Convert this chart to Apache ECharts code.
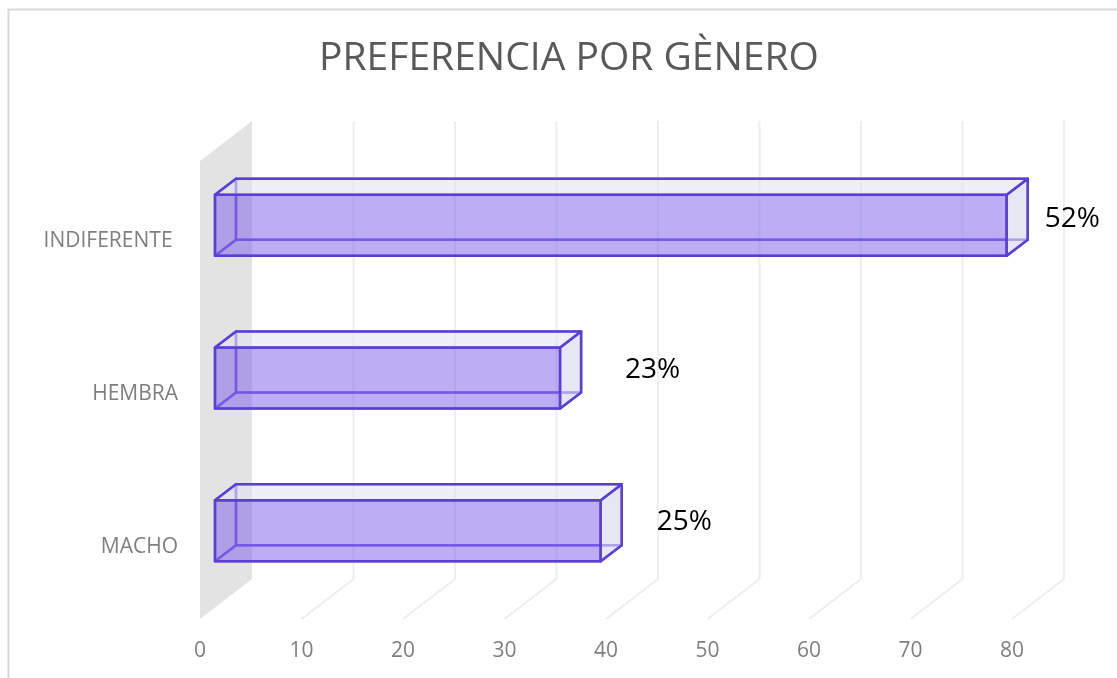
<!DOCTYPE html>
<html>
<head>
<meta charset="utf-8">
<title>Preferencia por genero</title>
<script src="https://cdn.jsdelivr.net/npm/echarts@6/dist/echarts.min.js"></script>
<style>
  html, body { margin: 0; padding: 0; background: #fff; }
  #myChart { width: 1117px; height: 678px; }
</style>
</head>
<body>
<div id="myChart"></div>
<script>
  var categories = ['MACHO', 'HEMBRA', 'INDIFERENTE ']
  var values = [38, 34, 78]
  var percents = ['25%', '23%', '52%']
  var xTicks = [10, 20, 30, 40, 50, 60, 70, 80]

  // separacion a mano de cada etiqueta respecto al frente de la barra
  var labelShift = [[56, -9], [65, -8], [38, -6]]

  var wallDepth = [52, -40]  // fondo del piso/pared
  var barDepth = [21, -16]
  var barStart = [15, -12]
  var barHeight = 61
  var stroke = '#5b3fd4'

  function poly(points, fill, lineColor, lineWidth, z2) {
    return {
      type: 'polygon',
      z2: z2,
      shape: { points: points },
      style: { fill: fill, stroke: lineColor, lineWidth: lineWidth, lineJoin: 'round' }
    }
  }

  function renderWall(params, api) {
    var c = params.coordSys
    var x = api.coord([0, 0])[0]
    var top = c.y, bot = c.y + c.height
    return poly([
      [x, top], [x + wallDepth[0], top + wallDepth[1]],
      [x + wallDepth[0], bot + wallDepth[1]], [x, bot]
    ], '#e3e3e3', null, 0, 0)
  }

  function renderGrid(params, api) {
    var c = params.coordSys
    var x = api.coord([api.value(0), 0])[0]
    var top = c.y, bot = c.y + c.height
    return {
      type: 'polyline',
      shape: { points: [
        [x, bot], [x + wallDepth[0], bot + wallDepth[1]], [x + wallDepth[0], top + wallDepth[1]]
      ] },
      style: { fill: null, stroke: '#eeeeee', lineWidth: 2 }
    }
  }

  function renderBar(params, api) {
    var i = params.dataIndex
    var end = api.coord([api.value(0), api.value(1)])
    var zero = api.coord([0, api.value(1)])
    var x0 = zero[0] + barStart[0]
    var x1 = end[0] + barStart[0]
    var y0 = zero[1] + barStart[1] - barHeight / 2
    var y1 = y0 + barHeight
    var dx = barDepth[0], dy = barDepth[1]
    var back = 'rgba(104,76,225,0.75)'
    return {
      type: 'group',
      children: [
        // caras de atras
        poly([[x0 + dx, y0 + dy], [x1 + dx, y0 + dy], [x1 + dx, y1 + dy], [x0 + dx, y1 + dy]], 'transparent', back, 2.5, 1),
        poly([[x0, y1], [x1, y1], [x1 + dx, y1 + dy], [x0 + dx, y1 + dy]], 'transparent', back, 2.5, 2),
        poly([[x0, y0], [x0 + dx, y0 + dy], [x0 + dx, y1 + dy], [x0, y1]], 'transparent', back, 2.5, 2),
        // caras de adelante
        poly([[x0, y0], [x1, y0], [x1, y1], [x0, y1]], 'rgba(124,92,235,0.5)', stroke, 2.5, 4),
        poly([[x1, y0], [x1 + dx, y0 + dy], [x1 + dx, y1 + dy], [x1, y1]], 'rgba(215,213,235,0.6)', stroke, 2.5, 5),
        poly([[x0, y0], [x1, y0], [x1 + dx, y0 + dy], [x0 + dx, y0 + dy]], 'rgba(225,225,240,0.55)', stroke, 2.5, 5),
        {
          type: 'text',
          z2: 6,
          style: {
            x: x1 + labelShift[i][0],
            y: (y0 + y1) / 2 + labelShift[i][1],
            text: percents[i],
            fill: '#000',
            font: '28px "Open Sans"',
            align: 'left',
            verticalAlign: 'middle'
          }
        }
      ]
    }
  }

  var myChart = echarts.init(document.getElementById('myChart'))
  var option = {
    animation: false,
    backgroundColor: '#fff',
    title: {
      text: 'PREFERENCIA POR GÈNERO',
      left: 564,
      top: 54,
      textAlign: 'center',
      textVerticalAlign: 'middle',
      textStyle: { fontFamily: 'Open Sans', fontWeight: 'normal', fontSize: 39, color: '#595959' }
    },
    grid: { left: 200, right: 105, top: 161, bottom: 59 },
    xAxis: {
      type: 'value',
      min: 0,
      max: 80,
      interval: 10,
      axisLine: { show: false },
      axisTick: { show: false },
      splitLine: { show: false },
      axisLabel: { margin: 22, color: '#7f7f7f', fontSize: 21, fontFamily: 'Open Sans' }
    },
    yAxis: {
      type: 'category',
      data: categories,
      axisLine: { show: false },
      axisTick: { show: false },
      splitLine: { show: false },
      axisLabel: { margin: 22, color: '#7f7f7f', fontSize: 21, fontFamily: 'Open Sans', verticalAlign: 'top', lineHeight: 8 }
    },
    graphic: [{
      type: 'polyline',
      silent: true,
      shape: { points: [[8.5, 678], [8.5, 9.5], [1117, 9.5]] },
      style: { fill: null, stroke: '#d9d9d9', lineWidth: 2 }
    }],
    series: [
      { type: 'custom', name: 'pared', renderItem: renderWall, data: [[0, 0]], encode: { x: 0, y: 1 }, silent: true, z: 1 },
      { type: 'custom', name: 'rejilla', renderItem: renderGrid, data: xTicks.map(function (t) { return [t, 0] }), encode: { x: 0, y: 1 }, silent: true, z: 2 },
      { type: 'custom', name: 'genero', renderItem: renderBar, data: values.map(function (v, i) { return [v, i] }), encode: { x: 0, y: 1 }, z: 3 }
    ]
  }
  myChart.setOption(option)
</script>
</body>
</html>
